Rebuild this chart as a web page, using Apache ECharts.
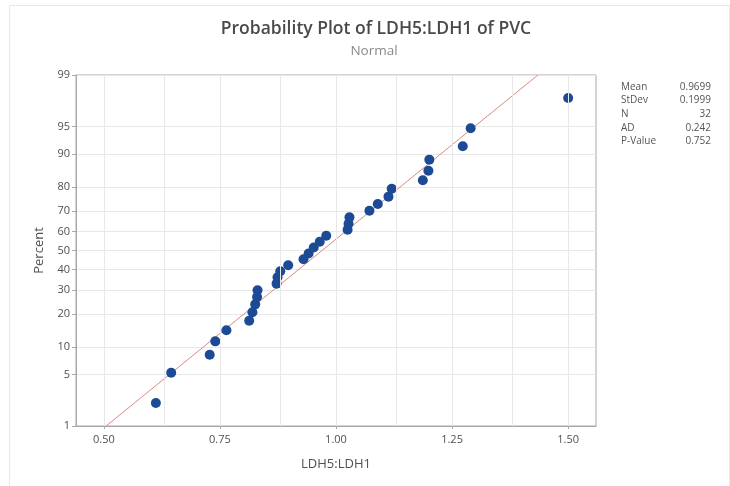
<!DOCTYPE html>
<html>
<head>
<meta charset="utf-8">
<script src="https://cdn.jsdelivr.net/npm/echarts@6/dist/echarts.min.js"></script>
<style>html,body{margin:0;padding:0;background:#fff}#chart{width:730px;height:486px}</style>
</head>
<body>
<div id="chart"></div>
<script>
// Observed LDH5:LDH1 values (sorted) and their plotting percents
const ldhValues = [0.612, 0.645, 0.728, 0.740, 0.764, 0.813, 0.820, 0.826, 0.830, 0.831,
  0.872, 0.874, 0.880, 0.897, 0.930, 0.941, 0.952, 0.965, 0.979, 1.025,
  1.027, 1.029, 1.072, 1.090, 1.113, 1.120, 1.187, 1.199, 1.201, 1.273,
  1.290, 1.500];
const percentValues = [2.160, 5.247, 8.333, 11.420, 14.506, 17.593, 20.679, 23.765, 26.852, 29.938,
  33.025, 36.111, 39.198, 42.284, 45.370, 48.457, 51.543, 54.630, 57.716, 60.802,
  63.889, 66.975, 70.062, 73.148, 76.235, 79.321, 82.407, 85.494, 88.580, 91.667,
  94.753, 97.840];
const percentTicks = [1, 5, 10, 20, 30, 40, 50, 60, 70, 80, 90, 95, 99];
const xLabelTicks = [0.5, 0.75, 1.0, 1.25, 1.5];
const xGridTicks = [0.5, 0.625, 0.75, 0.875, 1.0, 1.125, 1.25, 1.375, 1.5];
const statLabels = ['Mean', 'StDev', 'N', 'AD', 'P-Value'];
const statValues = ['0.9699', '0.1999', '32', '0.242', '0.752'];
const fitMean = 0.9699;
const fitStDev = 0.1999;

// Probability (normal quantile) scale transform
function probit(p) {
  const a = [-3.969683028665376e+01, 2.209460984245205e+02, -2.759285104469687e+02, 1.383577518672690e+02, -3.066479806614716e+01, 2.506628277459239e+00];
  const b = [-5.447609879822406e+01, 1.615858368580409e+02, -1.556989798598866e+02, 6.680131188771972e+01, -1.328068155288572e+01];
  const c = [-7.784894002430293e-03, -3.223964580411365e-01, -2.400758277161838e+00, -2.549732539343734e+00, 4.374664141464968e+00, 2.938163982698783e+00];
  const d = [7.784695709041462e-03, 3.224671290700398e-01, 2.445134137142996e+00, 3.754408661907416e+00];
  const pl = 0.02425, ph = 1 - pl;
  let q, r;
  if (p < pl) {
    q = Math.sqrt(-2 * Math.log(p));
    return (((((c[0]*q+c[1])*q+c[2])*q+c[3])*q+c[4])*q+c[5]) / ((((d[0]*q+d[1])*q+d[2])*q+d[3])*q+1);
  } else if (p <= ph) {
    q = p - 0.5; r = q*q;
    return (((((a[0]*r+a[1])*r+a[2])*r+a[3])*r+a[4])*r+a[5])*q / (((((b[0]*r+b[1])*r+b[2])*r+b[3])*r+b[4])*r+1);
  } else {
    q = Math.sqrt(-2 * Math.log(1 - p));
    return -(((((c[0]*q+c[1])*q+c[2])*q+c[3])*q+c[4])*q+c[5]) / ((((d[0]*q+d[1])*q+d[2])*q+d[3])*q+1);
  }
}
const zOf = pct => probit(pct / 100);
const yTickZ = percentTicks.map(zOf);
const yMin = zOf(percentTicks[0]);
const yMax = zOf(percentTicks[percentTicks.length - 1]);

const points = ldhValues.map((v, i) => [v, zOf(percentValues[i])]);
const fitLine = [[fitMean + fitStDev * yMin, yMin], [fitMean + fitStDev * yMax, yMax]];

const FONT = '"Open Sans", "Noto Sans", sans-serif';
const chart = echarts.init(document.getElementById('chart'), null, {renderer: 'canvas'});

const statGraphics = [];
statLabels.forEach((lab, i) => {
  statGraphics.push({type: 'text', left: 621, top: 82 + i * 13.6,
    style: {text: lab, font: '10px ' + FONT, fill: '#555'}});
  statGraphics.push({type: 'text', right: 19, top: 82 + i * 13.6,
    style: {text: statValues[i], font: '10px ' + FONT, fill: '#555', textAlign: 'right'}});
});

chart.setOption({
  animation: false,
  backgroundColor: '#fff',
  title: [{
    text: 'Probability Plot of LDH5:LDH1 of PVC',
    left: 371, top: 15, textAlign: 'center',
    textStyle: {fontFamily: FONT, fontSize: 17.5, fontWeight: 600, color: '#4a4a4a'}
  }, {
    text: 'Normal',
    left: 369, top: 39, textAlign: 'center',
    textStyle: {fontFamily: FONT, fontSize: 13.5, fontWeight: 'normal', color: '#8a8a8a'}
  }],
  graphic: [
    {type: 'rect', left: 7, top: 3, shape: {width: 720, height: 481},
      style: {fill: 'none', stroke: '#e8e8e8', lineWidth: 1}, silent: true, z: -10},
    ...statGraphics
  ],
  grid: {left: 76, right: 134, top: 75, bottom: 60, show: true, borderColor: '#a8a8a8', borderWidth: 1, containLabel: false},
  xAxis: {
    type: 'value', min: 0.44, max: 1.56,
    name: 'LDH5:LDH1', nameLocation: 'middle', nameGap: 32,
    nameTextStyle: {fontFamily: FONT, fontSize: 13, color: '#505050'},
    axisLine: {show: true, onZero: false, lineStyle: {color: '#a8a8a8'}},
    axisTick: {show: true, length: 3, customValues: xLabelTicks, lineStyle: {color: '#a8a8a8'}},
    axisLabel: {customValues: xLabelTicks, margin: 8, fontFamily: FONT, fontSize: 11, color: '#505050',
      formatter: v => v.toFixed(2)},
    splitLine: {show: false}
  },
  yAxis: {
    type: 'value', min: yMin, max: yMax,
    name: 'Percent', nameLocation: 'middle', nameGap: 30, nameRotate: 90,
    nameTextStyle: {fontFamily: FONT, fontSize: 13, color: '#505050'},
    axisLine: {show: true, onZero: false, lineStyle: {color: '#a8a8a8'}},
    axisTick: {show: true, length: 4, customValues: yTickZ, lineStyle: {color: '#a8a8a8'}},
    axisLabel: {customValues: yTickZ, margin: 6, fontFamily: FONT, fontSize: 11, color: '#505050',
      formatter: v => {
        let best = 0, bd = Infinity;
        yTickZ.forEach((z, i) => { const d = Math.abs(z - v); if (d < bd) { bd = d; best = i; } });
        return String(percentTicks[best]);
      }},
    splitLine: {show: true, lineStyle: {color: '#e8e8e8', width: 1}}
  },
  series: [
    {
      type: 'scatter', data: [], silent: true, z: 1,
      markLine: {
        silent: true, symbol: 'none', animation: false,
        label: {show: false},
        lineStyle: {color: '#e8e8e8', width: 1, type: 'solid'},
        data: xGridTicks.map(v => ({xAxis: v}))
      }
    },
    {
      type: 'line', data: fitLine, symbol: 'none', silent: true,
      lineStyle: {color: '#d98a80', width: 1}, z: 2
    },
    {
      type: 'scatter', data: points, symbol: 'circle', symbolSize: 10,
      itemStyle: {color: '#1d4a94', opacity: 1}, z: 3
    }
  ]
});
</script>
</body>
</html>
